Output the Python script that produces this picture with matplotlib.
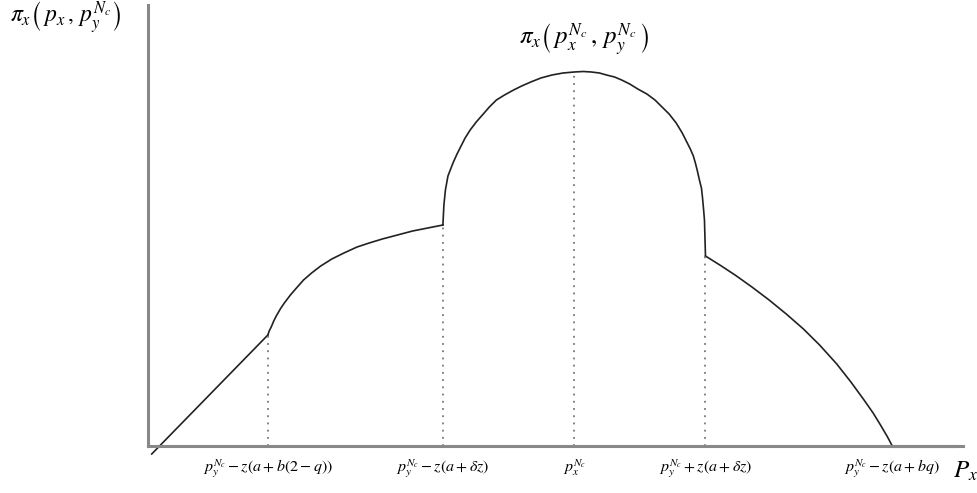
import matplotlib.pyplot as plt

plt.rcParams['mathtext.fontset'] = 'stix'
plt.rcParams['font.family'] = 'STIXGeneral'

# breakpoints of the profit curve (price, profit)
kink_x = [118.7, 292, 422, 552]
kink_y = [111, 221, 374, 190]
zero_x = 737
axis_end = 807

# linear piece, starting just below the price axis
lin_x = [3.7, 118.7]
lin_y = [-8, 111]

# first concave piece
seg2_x = [118.7, 120, 122, 124.5, 127, 131, 135, 141, 147, 154, 162, 171, 182,
          194, 207, 219, 232, 247, 262, 277, 292]
seg2_y = [111, 115, 119, 125, 130, 137, 143, 151, 158, 166, 173, 180, 187,
          193, 199, 203, 207, 211, 215, 218, 221]

# central hump around the optimum
seg3_x = [292, 293, 294.5, 297, 302, 306, 310, 314, 319, 325, 332, 338, 345,
          353, 362, 370, 379, 389, 400, 411, 422, 431, 439, 447, 454, 462,
          469, 477, 485, 494, 502, 509, 516, 523, 529, 533, 537, 540, 542,
          544, 546, 548, 549, 550, 551, 551.5, 552]
seg3_y = [221, 241, 256, 270, 283, 292, 300, 308, 316, 324, 332, 339, 346,
          351, 356, 360, 364, 368, 371, 373, 374, 374.5, 374, 373, 371, 369,
          366, 362, 357, 352, 346, 339, 332, 323, 313, 305, 297, 290, 283,
          275, 266, 258, 249, 238, 226, 208, 190]

# falling piece down to zero demand
seg4_x = [552, 567, 582, 598, 615, 632, 649, 665, 682, 696, 709, 718, 725,
          732, 737]
seg4_y = [190, 180.5, 170.5, 159, 146, 132, 117, 101, 82, 64, 46, 33, 21.5,
          9.5, 0]

tick_labels = [r'$p_y^{N_c}-z(a+b(2-q))$',
               r'$p_y^{N_c}-z(a+\delta z)$',
               r'$p_x^{N_c}$',
               r'$p_y^{N_c}+z(a+\delta z)$',
               r'$p_y^{N_c}-z(a+bq)$']

fig = plt.figure(figsize=(9.78, 4.93), dpi=100)
ax = fig.add_axes([148 / 978, 47 / 493, 815 / 978, 441 / 493])

curve = dict(color='#222222', lw=1.2, solid_joinstyle='round', clip_on=False)
ax.plot(lin_x, lin_y, **curve)
ax.plot(seg2_x, seg2_y, **curve)
ax.plot(seg3_x, seg3_y, **curve)
ax.plot(seg4_x, seg4_y, **curve)
ax.plot([zero_x, axis_end - 8], [0, 0], color='#333333', lw=2.2, clip_on=False)

# dotted guides from the breakpoints down to the axis
for x, y in zip(kink_x, kink_y):
    ax.plot([x, x], [0, y], color='#777777', lw=1.3, ls=(0, (1, 3)))

ax.set_xlim(0, axis_end)
ax.set_ylim(0, 441)

for side in ['top', 'right']:
    ax.spines[side].set_visible(False)
for side in ['left', 'bottom']:
    ax.spines[side].set_color('#888888')
    ax.spines[side].set_linewidth(2.2)

ax.set_xticks(kink_x + [zero_x])
ax.set_xticklabels(tick_labels, fontsize=11.5)
ax.tick_params(axis='x', length=0, pad=8)
ax.set_yticks([])

fig.text(10 / 978, 1 - 18 / 493, r'$\pi_x\left(\,p_x\,,\,p_y^{N_c}\right)$',
         fontsize=17, va='center', ha='left')
ax.text(432, 406, r'$\pi_x\left(\,p_x^{N_c}\,,\,p_y^{N_c}\,\right)$',
        fontsize=18, va='center', ha='center')
fig.text(953 / 978, 1 - 472 / 493, r'$P_x$', fontsize=18, va='center', ha='left')

fig.savefig('out.png', dpi=100)
